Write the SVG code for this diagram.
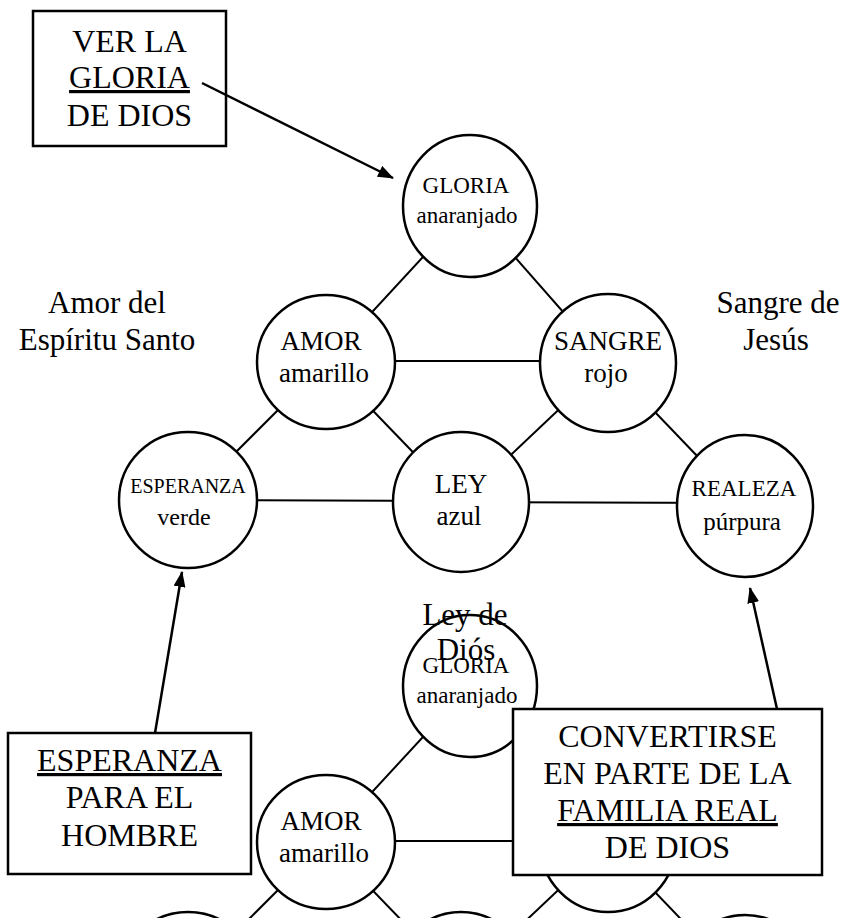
<svg xmlns="http://www.w3.org/2000/svg" width="844" height="918" viewBox="0 0 844 918" font-family="'Liberation Serif', 'Times New Roman', serif">
<defs>
<marker id="ah" viewBox="0 0 16 12" refX="15" refY="6" markerWidth="16" markerHeight="12" markerUnits="userSpaceOnUse" orient="auto"><path d="M0,0 L16,6 L0,12 z" fill="#000"/></marker>
</defs>
<style>
.n{fill:#fff;stroke:#000;stroke-width:2.5}
.e{stroke:#000;stroke-width:2;fill:none}
.t{font-family:'Liberation Serif','Times New Roman',serif;fill:#000;text-anchor:middle}
.b{font-size:32px}
.box{fill:#fff;stroke:#000;stroke-width:2.5}
.a{stroke:#000;stroke-width:2.5;fill:none;marker-end:url(#ah)}
.ul{text-decoration:underline}
</style>
<rect width="844" height="918" fill="#fff"/>

<g id="connectors">
<line class="e" x1="470" y1="206" x2="326" y2="362"/>
<line class="e" x1="470" y1="206" x2="608" y2="363"/>
<line class="e" x1="326" y1="361" x2="608" y2="361"/>
<line class="e" x1="326" y1="362" x2="188" y2="500"/>
<line class="e" x1="326" y1="362" x2="461" y2="502"/>
<line class="e" x1="608" y1="363" x2="461" y2="502"/>
<line class="e" x1="608" y1="363" x2="745" y2="506"/>
<line class="e" x1="188" y1="500" x2="461" y2="501"/>
<line class="e" x1="461" y1="502" x2="745" y2="503"/>
</g>

<g id="gloria"><ellipse class="n" cx="470" cy="206" rx="67" ry="71"/>
<text class="t" x="466" y="193" font-size="23">GLORIA</text>
<text class="t" x="467" y="223" font-size="23">anaranjado</text></g>
<g id="amor"><ellipse class="n" cx="326" cy="362" rx="69" ry="67"/>
<text class="t" x="321" y="350" font-size="27">AMOR</text>
<text class="t" x="324" y="382" font-size="27">amarillo</text></g>
<g id="sangre"><ellipse class="n" cx="608" cy="363" rx="68" ry="69"/>
<text class="t" x="608" y="350" font-size="27">SANGRE</text>
<text class="t" x="606" y="382" font-size="27">rojo</text></g>
<g id="esperanza"><ellipse class="n" cx="188" cy="500" rx="69" ry="68"/>
<text class="t" x="188" y="493" font-size="20">ESPERANZA</text>
<text class="t" x="184" y="525" font-size="24">verde</text></g>
<g id="ley"><ellipse class="n" cx="461" cy="502" rx="68" ry="70"/>
<text class="t" x="461" y="493" font-size="27">LEY</text>
<text class="t" x="459" y="525" font-size="27">azul</text></g>
<g id="realeza"><ellipse class="n" cx="745" cy="506" rx="68" ry="71"/>
<text class="t" x="744" y="496" font-size="23">REALEZA</text>
<text class="t" x="742" y="530" font-size="25">púrpura</text></g>

<g id="connectors-copy">
<line class="e" x1="470" y1="686" x2="326" y2="842"/>
<line class="e" x1="470" y1="686" x2="608" y2="843"/>
<line class="e" x1="326" y1="841" x2="608" y2="841"/>
<line class="e" x1="326" y1="842" x2="188" y2="980"/>
<line class="e" x1="326" y1="842" x2="461" y2="982"/>
<line class="e" x1="608" y1="843" x2="461" y2="982"/>
<line class="e" x1="608" y1="843" x2="745" y2="986"/>
</g>
<g id="gloria-copy"><ellipse class="n" cx="470" cy="686" rx="67" ry="71"/>
<text class="t" x="466" y="673" font-size="23">GLORIA</text>
<text class="t" x="467" y="703" font-size="23">anaranjado</text></g>
<g id="amor-copy"><ellipse class="n" cx="326" cy="842" rx="69" ry="67"/>
<text class="t" x="321" y="830" font-size="27">AMOR</text>
<text class="t" x="324" y="862" font-size="27">amarillo</text></g>
<g id="sangre-copy"><ellipse class="n" cx="608" cy="843" rx="68" ry="69"/></g>
<g id="esperanza-copy"><ellipse class="n" cx="188" cy="980" rx="69" ry="68"/></g>
<g id="ley-copy"><ellipse class="n" cx="461" cy="982" rx="68" ry="70"/></g>
<g id="realeza-copy"><ellipse class="n" cx="745" cy="986" rx="68" ry="71"/></g>

<g id="label-amor">
<text class="t" x="107" y="313" font-size="31">Amor del</text>
<text class="t" x="107" y="350" font-size="31">Espíritu Santo</text></g>
<g id="label-sangre">
<text class="t" x="778" y="313" font-size="31">Sangre de</text>
<text class="t" x="776" y="350" font-size="31">Jesús</text></g>
<g id="label-ley">
<text class="t" x="465" y="625" font-size="31">Ley de</text>
<text class="t" x="466" y="660" font-size="31">Diós</text></g>

<g id="box-gloria"><rect class="box" x="33" y="11" width="193" height="135"/>
<text class="t b" x="129.5" y="52">VER LA</text>
<text class="t b ul" x="129.5" y="88">GLORIA</text>
<text class="t b" x="129.5" y="126">DE DIOS</text></g>

<g id="box-esperanza"><rect class="box" x="8" y="733" width="243" height="141"/>
<text class="t b ul" x="129.5" y="771">ESPERANZA</text>
<text class="t b" x="129.5" y="808">PARA EL</text>
<text class="t b" x="129.5" y="846">HOMBRE</text></g>

<g id="box-familia"><rect class="box" x="513" y="709" width="309" height="166"/>
<text class="t b" x="667.5" y="747">CONVERTIRSE</text>
<text class="t b" x="667.5" y="784">EN PARTE DE LA</text>
<text class="t b ul" x="667.5" y="821">FAMILIA REAL</text>
<text class="t b" x="667.5" y="858">DE DIOS</text></g>

<g id="arrows">
<line class="a" x1="202" y1="83" x2="393" y2="178"/>
<line class="a" x1="155" y1="733" x2="182" y2="572"/>
<line class="a" x1="777" y1="709" x2="750" y2="588"/>
</g>
</svg>
